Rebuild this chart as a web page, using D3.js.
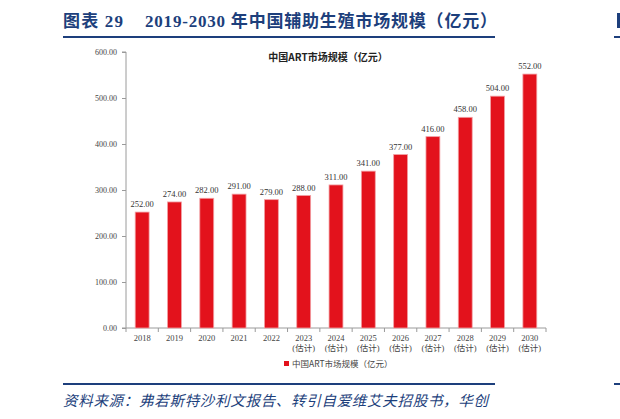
<!DOCTYPE html>
<html><head><meta charset="utf-8">
<script src="https://cdn.jsdelivr.net/npm/d3@7"></script>
<style>body{margin:0;background:#fff}svg{display:block}</style>
</head><body>
<svg id="c" width="620" height="419"></svg>
<script>
const years = ["2018","2019","2020","2021","2022","2023","2024","2025","2026","2027","2028","2029","2030"];
const estimated = [false,false,false,false,false,true,true,true,true,true,true,true,true];
const values = [252,274,282,291,279,288,311,341,377,416,458,504,552];
const yTicks = [0,100,200,300,400,500,600];
const seriesName = "中国ART市场规模（亿元）";

const svg = d3.select("#c");
const blue = "#1d3f7c";
const serif = "'Liberation Serif','DejaVu Serif',serif";
const cjk = "'Noto Sans CJK SC',sans-serif";
const hfont = "'Liberation Serif','Noto Sans CJK SC',serif";

// header
svg.append("text").attr("x",63).attr("y",27).attr("fill",blue)
  .style("font-family",hfont).style("font-weight","bold").style("font-size","17px")
  .attr("textLength",60).attr("lengthAdjust","spacing")
  .text("图表 29");
svg.append("text").attr("x",145).attr("y",27).attr("fill",blue)
  .style("font-family",hfont).style("font-weight","bold").style("font-size","17px")
  .attr("textLength",352).attr("lengthAdjust","spacing")
  .text("2019-2030 年中国辅助生殖市场规模（亿元）");
svg.append("rect").attr("x",63).attr("y",36).attr("width",432).attr("height",2).attr("fill",blue);
svg.append("rect").attr("x",614).attr("y",36).attr("width",6).attr("height",2).attr("fill",blue);
svg.append("rect").attr("x",617).attr("y",13).attr("width",3).attr("height",15).attr("fill",blue);
svg.append("rect").attr("x",63).attr("y",383).attr("width",432).attr("height",2).attr("fill",blue);
svg.append("rect").attr("x",614).attr("y",383).attr("width",6).attr("height",2).attr("fill",blue);
svg.append("text").attr("x",63).attr("y",406).attr("fill",blue)
  .style("font-family",cjk).style("font-style","italic").style("font-size","14.5px")
  .attr("textLength",425).attr("lengthAdjust","spacing")
  .text("资料来源：弗若斯特沙利文报告、转引自爱维艾夫招股书，华创");

// chart
const x = d3.scaleBand().domain(years).range([126,546]).paddingInner(0.57).paddingOuter(0.285);
const y = d3.scaleLinear().domain([0,600]).range([328,52]);

svg.append("text").attr("x",328).attr("y",61).attr("text-anchor","middle")
  .style("font-family",cjk).style("font-weight","bold").style("font-size","10px").attr("fill","#222")
  .text(seriesName);

// y axis
const yAxis = d3.axisLeft(y).tickValues(yTicks).tickFormat(d3.format(".2f")).tickSize(4).tickPadding(5);
const gy = svg.append("g").attr("transform","translate(126,0)").call(yAxis);
gy.select(".domain").attr("stroke","#9a9a9a").attr("d","M-4,52H0V328H-4");
gy.selectAll(".tick line").attr("stroke","#9a9a9a");
gy.selectAll(".tick text").style("font-family",serif).style("font-size","8px").attr("fill","#444");

// x axis
const xb = d3.scaleLinear().domain([0,years.length]).range([126,546]);
const gx = svg.append("g").attr("transform","translate(0,328)");
gx.append("line").attr("x1",126).attr("x2",546).attr("stroke","#9a9a9a");
gx.selectAll("line.t").data(d3.range(years.length+1)).join("line").attr("class","t")
  .attr("x1",d=>xb(d)).attr("x2",d=>xb(d)).attr("y1",0).attr("y2",4).attr("stroke","#9a9a9a");
gx.selectAll("text.xl").data(years).join("text").attr("class","xl")
  .attr("x",d=>x(d)+x.bandwidth()/2).attr("y",13).attr("text-anchor","middle")
  .style("font-family",serif).style("font-size","8.5px").attr("fill","#444").text(d=>d);
gx.selectAll("text.xe").data(years.filter((d,i)=>estimated[i])).join("text").attr("class","xe")
  .attr("x",d=>x(d)+x.bandwidth()/2).attr("y",23).attr("text-anchor","middle")
  .style("font-family","'Liberation Serif','Noto Sans CJK SC',serif").style("font-size","8.5px").attr("fill","#444").text("(估计)");

// bars
const data = years.map((d,i)=>({year:d,v:values[i]}));
svg.selectAll("rect.bar").data(data).join("rect").attr("class","bar")
  .attr("x",d=>x(d.year)).attr("width",x.bandwidth())
  .attr("y",d=>y(d.v)).attr("height",d=>y(0)-y(d.v))
  .attr("fill","#e3121c").attr("stroke","#f2a0a4").attr("stroke-width",0.8);
svg.selectAll("text.val").data(data).join("text").attr("class","val")
  .attr("x",d=>x(d.year)+x.bandwidth()/2).attr("y",d=>y(d.v)-5).attr("text-anchor","middle")
  .style("font-family",serif).style("font-size","8.5px").attr("fill","#333")
  .text(d=>d3.format(".2f")(d.v));

// legend
svg.append("rect").attr("x",284).attr("y",361).attr("width",5).attr("height",5).attr("fill","#e3121c");
svg.append("text").attr("x",292).attr("y",367).style("font-family",cjk).style("font-size","8.5px").attr("fill","#444")
  .text(seriesName);
</script>
</body></html>
